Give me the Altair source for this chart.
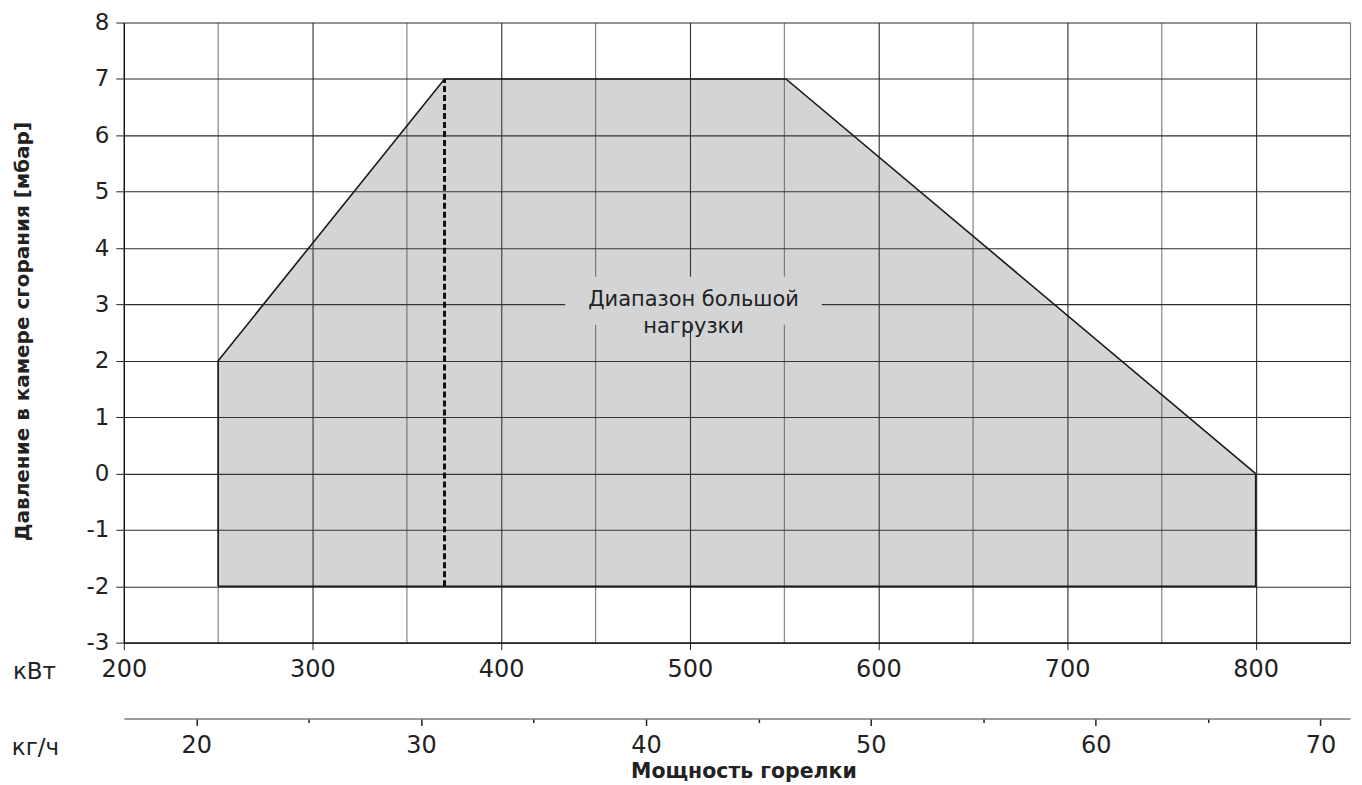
import altair as alt
import pandas as pd

FONT = "DejaVu Sans"

# ---- data ----
KW_DOMAIN = [200, 850]
P_DOMAIN = [-3, 8]
KGH_DOMAIN = [16.78, 71.31]

kw_grid = [200, 250, 300, 350, 400, 450, 500, 550, 600, 650, 700, 750, 800, 850]
p_ticks = [-3, -2, -1, 0, 1, 2, 3, 4, 5, 6, 7, 8]
kgh_ticks = [20, 25, 30, 35, 40, 45, 50, 55, 60, 65, 70]

# operating envelope (outline, closed)
env_kw = [250, 250, 370, 551, 800, 800, 250]
env_p = [-2, 2, 7, 7, 0, -2, -2]

# filled area (upper edge, lower edge)
area_kw = [250, 370, 551, 800]
area_top = [2, 7, 7, 0]
area_bottom = [-2, -2, -2, -2]

# dashed vertical line
dash_kw = [370]
dash_p0 = [-2]
dash_p1 = [7]

# label
label_text = ["Диапазон большой\nнагрузки"]
label_kw = [502]
label_p = [3.07]
box_kw0 = [434]
box_kw1 = [570]
box_p0 = [2.64]
box_p1 = [3.49]

# ---- frames ----
env_df = pd.DataFrame({"kw": env_kw, "p": env_p, "i": list(range(len(env_kw)))})
area_df = pd.DataFrame({"kw": area_kw, "top": area_top, "bottom": area_bottom})
dash_df = pd.DataFrame({"kw": dash_kw, "p0": dash_p0, "p1": dash_p1})
label_df = pd.DataFrame({"kw": label_kw, "p": label_p, "t": label_text})
box_df = pd.DataFrame({"x0": box_kw0, "x1": box_kw1, "y0": box_p0, "y1": box_p1})
kgh_df = pd.DataFrame({"kgh": KGH_DOMAIN})
title_df = pd.DataFrame({"t": ["Мощность горелки"]})

x_scale = alt.Scale(domain=KW_DOMAIN, nice=False, zero=False)
y_scale = alt.Scale(domain=P_DOMAIN, nice=False, zero=False)

is100 = "datum.value % 100 === 0"

x_axis = alt.Axis(
    values=kw_grid,
    labelExpr=f"{is100} ? datum.label : ''",
    format="d",
    grid=True,
    gridColor={"condition": {"test": is100, "value": "#2b2b2b"}, "value": "#7a7a7a"},
    gridWidth=1.1,
    tickOpacity={"condition": {"test": is100, "value": 1}, "value": 0},
    tickSize=7,
    tickColor="#222222",
    domainColor="#111111",
    domainWidth=1.3,
    labelFontSize=24,
    labelPadding=8,
    labelFlush=False,
    labelOverlap=False,
    title="кВт",
    titleFontWeight="normal",
    titleFontSize=23,
    titleAngle=0,
    titleAlign="center",
    titleBaseline="middle",
    titleX=-90,
    titleY=29,
)

y_axis = alt.Axis(
    values=p_ticks,
    labelExpr="datum.value < 0 ? '-' + abs(datum.value) : '' + datum.value",
    grid=True,
    gridColor="#2b2b2b",
    gridWidth=1.1,
    tickSize=8,
    tickColor="#222222",
    domainColor="#111111",
    domainWidth=1.3,
    labelFontSize=23,
    labelPadding=7,
    labelOverlap=False,
    title="Давление в камере сгорания [мбар]",
    titleFontWeight="bold",
    titleFontSize=20,
    titleAngle=-90,
    titleAlign="center",
    titleBaseline="middle",
    titleX=-101,
    titleY=309,
)

area = alt.Chart(area_df).mark_area(
    fill="rgb(79,83,91)", fillOpacity=0.25
).encode(
    x=alt.X("kw:Q", scale=x_scale, axis=x_axis),
    y=alt.Y("top:Q", scale=y_scale, axis=y_axis),
    y2="bottom:Q",
)

box = alt.Chart(box_df).mark_rect(color="#d3d4d6").encode(
    x="x0:Q", x2="x1:Q", y="y0:Q", y2="y1:Q"
)

outline = alt.Chart(env_df).mark_line(color="#1a1a1a", strokeWidth=1.6).encode(
    x="kw:Q", y="p:Q", order="i:Q"
)

dash = alt.Chart(dash_df).mark_rule(
    color="#111111", strokeWidth=3, strokeDash=[6, 3]
).encode(x="kw:Q", y="p0:Q", y2="p1:Q")

label = alt.Chart(label_df).mark_text(
    font=FONT, fontSize=21, lineHeight=27, lineBreak="\n", color="#222222",
    align="center", baseline="middle"
).encode(x="kw:Q", y="p:Q", text="t:N")

bottom_title = alt.Chart(title_df).mark_text(
    font=FONT, fontSize=20.5, fontWeight="bold", color="#222222",
    align="center", baseline="middle"
).encode(x=alt.value(621), y=alt.value(751), text="t:N")

main = alt.layer(area, box, outline, dash, label, bottom_title)

kg_axis = alt.Axis(
    orient="bottom",
    offset=76,
    values=kgh_ticks,
    labelExpr="datum.value % 10 === 0 ? datum.label : ''",
    format="d",
    grid=False,
    domainColor="#7a7a7a",
    domainWidth=1.6,
    tickSize={"condition": {"test": "datum.value % 10 === 0", "value": 7}, "value": 4},
    tickColor="#222222",
    tickWidth=1.5,
    labelFontSize=24,
    labelPadding=8,
    labelFlush=False,
    labelOverlap=False,
    title="кг/ч",
    titleFontWeight="normal",
    titleFontSize=23,
    titleAngle=0,
    titleAlign="center",
    titleBaseline="middle",
    titleX=-89,
    titleY=29,
)

kg = alt.Chart(kgh_df).mark_point(opacity=0).encode(
    x=alt.X("kgh:Q", scale=alt.Scale(domain=KGH_DOMAIN, nice=False, zero=False), axis=kg_axis)
)

chart = alt.layer(main, kg).resolve_scale(x="independent").properties(
    width=1228,
    height=621,
    autosize=alt.AutoSizeParams(type="none"),
    padding={"left": 116, "top": 14, "right": 4, "bottom": 150},
).configure(font=FONT).configure_view(stroke=None).configure_axis(
    labelColor="#222222", titleColor="#222222", labelFont=FONT, titleFont=FONT
)

chart.save("out.html", embed_options={"renderer": "svg", "actions": False})
